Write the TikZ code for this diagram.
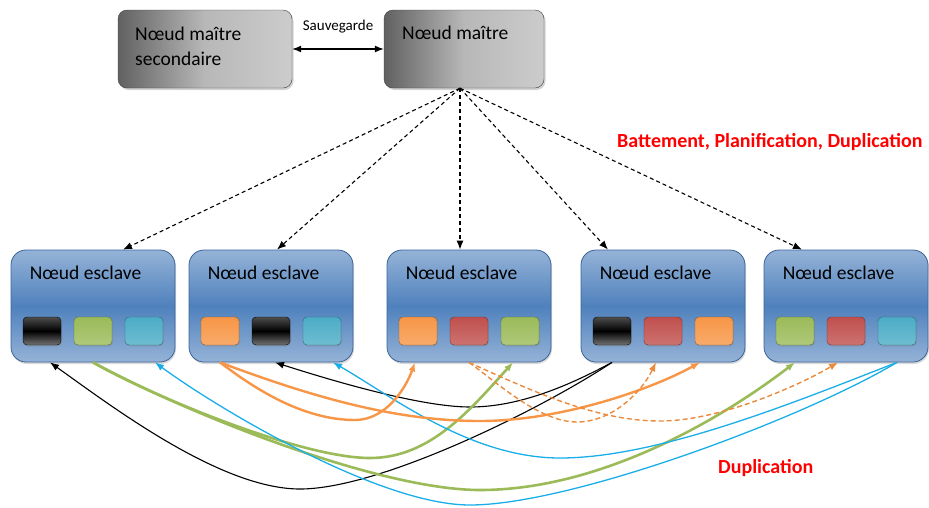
\documentclass[tikz,border=0pt]{standalone}
\usepackage{fontspec}
\setmainfont{Carlito}
\usetikzlibrary{arrows.meta, shadows, positioning}
\definecolor{bleuH}{HTML}{95B3D7}
\definecolor{bleuM}{HTML}{4F81BD}
\definecolor{bleuR}{HTML}{3A6398}
\definecolor{vert}{HTML}{9BBB59}
\definecolor{cyanB}{HTML}{4BACC6}
\definecolor{orangeB}{HTML}{F79646}
\definecolor{rougeB}{HTML}{C0504D}
\definecolor{cyanF}{HTML}{1AAEE8}
\definecolor{orangeF}{HTML}{EC8A3C}

\begin{document}
\begin{tikzpicture}[x=1pt, y=-1pt,
    >={Latex[length=9pt,width=7pt]},   % pointes de fleches
    font=\fontsize{19.5}{22}\selectfont,
    maitre/.style={draw=black!75, rounded corners=9pt, minimum height=78pt,
        left color=black!62, right color=black!20, middle color=black!28,
        drop shadow={opacity=0.35, shadow xshift=1.5pt, shadow yshift=-2pt}},
    esclave/.style={draw=bleuR, line width=0.8pt, rounded corners=15pt, minimum width=164pt, minimum height=112pt,
        top color=bleuH, bottom color=bleuH, middle color=bleuM,
        drop shadow={opacity=0.3, shadow xshift=1pt, shadow yshift=-2pt}},
    bloc/.style={draw=#1!60!black, top color=#1, bottom color=#1!80!white, rounded corners=4pt,
        minimum width=38pt, minimum height=28pt,
        drop shadow={opacity=0.3, shadow xshift=1pt, shadow yshift=-1.5pt}},
    bnoir/.style={bloc=black, top color=black!70, bottom color=black!55, middle color=black},
    bvert/.style={bloc=vert}, bcyan/.style={bloc=cyanB},
    borange/.style={bloc=orangeB}, brouge/.style={bloc=rougeB},
    titre/.style={anchor=west, inner sep=0pt},
    rouge/.style={anchor=west, inner sep=0pt, text=red, font=\fontsize{20}{23}\selectfont\bfseries},
    ordre/.style={->, dashed, dash pattern=on 4pt off 3pt, line width=1.1pt}]
    \useasboundingbox (0,0) rectangle (929,507);
    % noeuds maitres
    \node[maitre, minimum width=174pt] (sec) at (205,49) {};
    \node[maitre, minimum width=160pt] (mai) at (464,49) {};
    \node[titre, align=left, font=\fontsize{19.5}{25}\selectfont] (tsec) at (135,46) {Nœud maître\\secondaire};
    \node[titre] (tmai) at (402,33) {Nœud maître};
    \draw[<->, line width=1.2pt] (sec) -- (mai);
    \node[font=\fontsize{15}{17}\selectfont] (sauv) at (338,27) {Sauvegarde};
    % noeuds esclaves
    \foreach \i/\x in {1/93, 2/271, 3/469, 4/663, 5/846} {
        \node[esclave] (e\i) at (\x,306) {};
        \node[titre] (t\i) at ([shift={(19,23)}]e\i.north west) {Nœud esclave};
    }
    % blocs
    \foreach \i/\a/\b/\c in {1/noir/vert/cyan, 2/orange/noir/cyan, 3/orange/rouge/vert,
                             4/noir/rouge/orange, 5/vert/rouge/cyan} {
        \node[b\a] (b\i1) at ([shift={(-51,25)}]e\i) {};
        \node[b\b] (b\i2) at ([shift={(0,25)}]e\i) {};
        \node[b\c] (b\i3) at ([shift={(51,25)}]e\i) {};
    }
    % battement, planification
    \foreach \i/\d in {1/30, 2/6, 3/-9, 4/-55, 5/-44}
        \draw[ordre] ([xshift=-4pt]mai.south) -- ([xshift=\d pt]e\i.north);
    \node[rouge] (bpd) at (617,142) {Battement, Planification, Duplication};
    % duplication
    \draw[->, line width=1.1pt, black] (e4.south -| b41) .. controls (540,410) and (380,489) .. (300,489)
        .. controls (220,489) and (110,405) .. ([xshift=8pt]e1.south -| b11);
    \draw[->, line width=1.1pt, black] (e4.south -| b41) .. controls (570,385) and (520,407) .. (470,407)
        .. controls (420,407) and (330,380) .. ([xshift=4pt]e2.south -| b22);
    \draw[->, line width=2.6pt, vert] (e1.south -| b12) .. controls (150,395) and (300,458) .. (370,458)
        .. controls (430,458) and (470,410) .. ([xshift=-7pt]e3.south -| b33);
    \draw[->, line width=2.6pt, vert] (e1.south -| b12) .. controls (190,415) and (380,490) .. (480,490)
        .. controls (600,490) and (720,420) .. (e5.south -| b51);
    \draw[->, line width=1.3pt, cyanF] (e5.south -| b53) .. controls (800,420) and (570,505) .. (470,505)
        .. controls (380,505) and (220,410) .. ([xshift=11pt]e1.south -| b13);
    \draw[->, line width=1.3pt, cyanF] (e5.south -| b53) .. controls (800,400) and (660,458) .. (560,458)
        .. controls (470,458) and (390,395) .. ([xshift=11pt]e2.south -| b23);
    \draw[->, line width=2.4pt, orangeB] (e2.south -| b21) .. controls (250,385) and (300,420) .. (355,420)
        .. controls (385,420) and (405,390) .. ([xshift=-3pt]e3.south -| b31);
    \draw[->, line width=2.4pt, orangeB] (e2.south -| b21) .. controls (320,400) and (400,421) .. (480,421)
        .. controls (560,421) and (650,390) .. ([xshift=-14pt]e4.south -| b43);
    \draw[->, line width=1.4pt, orangeF, dashed, dash pattern=on 5pt off 3pt] (e3.south -| b32)
        .. controls (500,385) and (540,422) .. (577,422)
        .. controls (610,422) and (640,395) .. ([xshift=-7pt]e4.south -| b42);
    \draw[->, line width=1.4pt, orangeF, dashed, dash pattern=on 5pt off 3pt] (e3.south -| b32)
        .. controls (540,395) and (600,421) .. (660,421)
        .. controls (720,421) and (800,385) .. ([xshift=-8pt]e5.south -| b52);
    \node[rouge] (dup) at (718,468) {Duplication};
\end{tikzpicture}
\end{document}
